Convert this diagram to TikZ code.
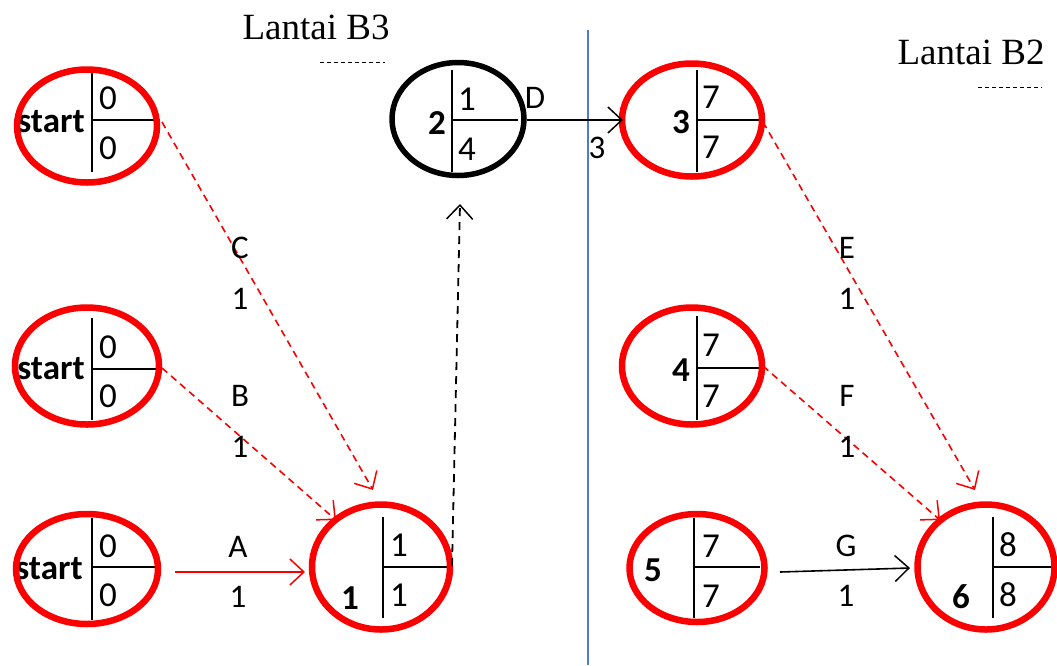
\documentclass[tikz,border=0pt]{standalone}
\usepackage{fontspec}
\setmainfont{Carlito}
\newfontfamily\tnr{Liberation Serif}
\usetikzlibrary{shapes.geometric,arrows.meta}
\definecolor{evred}{RGB}{250,0,0}
\definecolor{sepblue}{RGB}{80,125,195}
\begin{document}
\begin{tikzpicture}[x=1pt,y=-1pt,
  ev/.style args={#1/#2}{ellipse,draw=evred,line width=6.5pt,inner sep=0pt,minimum width=#1,minimum height=#2},
  evk/.style args={#1/#2}{ellipse,draw=black,line width=5.5pt,inner sep=0pt,minimum width=#1,minimum height=#2},
  num/.style={font=\fontsize{35}{35}\selectfont,inner sep=0pt,anchor=center},
  bnum/.style={font=\fontsize{35}{35}\selectfont\bfseries,inner sep=0pt,anchor=center},
  lbl/.style={font=\fontsize{33}{33}\selectfont,inner sep=0pt,anchor=center},
  ttl/.style={font=\tnr\fontsize{37}{37}\selectfont,inner sep=0pt,anchor=center},
  sep/.style={line width=2.8pt,black},
  tip/.style={-{Straight Barb[length=14pt,width=26pt,line width=1.5pt]}},
  redd/.style={tip,evred,line width=1.6pt,dash pattern=on 7pt off 5pt},
  reds/.style={tip,evred,line width=1.6pt},
  blks/.style={tip,black,line width=1.6pt},
  blkd/.style={tip,black,line width=1.8pt,dash pattern=on 8pt off 6pt}]
\useasboundingbox (0,0) rectangle (1057,665);

% separator
\draw[sepblue,line width=1.5pt] (588,30) -- (588,665);

% titles
\node[ttl] (tB3) at (316,27) {Lantai B3};
\node[ttl] (tB2) at (971,52) {Lantai B2};
\draw[black,line width=0.8pt,dash pattern=on 4pt off 3pt] (320,62) -- (385,62);
\draw[black,line width=0.8pt,dash pattern=on 4pt off 3pt] (978,87) -- (1042,87);

% ---- texts inside events (drawn under the ellipses)
\node[bnum] (t1) at (51,122) {start};
\node[num] at (108,98) {0}; \node[num] at (108,148) {0};
\node[bnum] (t2) at (51,369) {start};
\node[num] at (108,347) {0}; \node[num] at (108,396) {0};
\node[bnum] (t3) at (49,569) {start};
\node[num] at (108,546) {0}; \node[num] at (108,595) {0};
\node[bnum] at (350,598) {1};
\node[num] at (399,545) {1}; \node[num] at (399,595) {1};
\node[bnum] at (437,123) {2};
\node[num] at (467,99) {1}; \node[num] at (467,149) {4};
\node[bnum] at (681,122) {3};
\node[num] at (711,97) {7}; \node[num] at (711,147) {7};
\node[bnum] at (681,370) {4};
\node[num] at (711,345) {7}; \node[num] at (711,396) {7};
\node[bnum] at (653,570) {5};
\node[num] at (711,546) {7}; \node[num] at (711,596) {7};
\node[bnum] at (961,597) {6};
\node[num] at (1008,545) {8}; \node[num] at (1008,595) {8};

% ---- dividers
\draw[sep] (92,71) -- (92,172) (92,120) -- (156,120);
\draw[sep] (92,318) -- (92,420) (92,369) -- (156,369);
\draw[sep] (92,518) -- (92,620) (92,567) -- (156,567);
\draw[sep] (383,517) -- (383,618) (383,567) -- (448,567);
\draw[sep] (452,70) -- (452,172) (452,120) -- (518,120);
\draw[sep] (697,70) -- (697,172) (697,120) -- (760,120);
\draw[sep] (697,316) -- (697,420) (697,368) -- (760,368);
\draw[sep] (694,518) -- (694,618) (694,567) -- (760,567);
\draw[sep] (993,517) -- (993,618) (993,567) -- (1057,567);

% ---- event ellipses
\node[ev=140pt/113pt] (s1) at (87,126) {};
\node[ev=144pt/117pt] (s2) at (87,366) {};
\node[ev=142pt/110pt] (s3) at (87,569) {};
\node[ev=138pt/125pt] (n1) at (381,567) {};
\node[evk=132pt/113pt] (n2) at (458,119) {};
\node[ev=140pt/113pt] (n3) at (692,120) {};
\node[ev=140pt/117pt] (n4) at (692,366) {};
\node[ev=135pt/108pt] (n5) at (697,568) {};
\node[ev=137pt/125pt] (n6) at (986,567) {};

% ---- connector end points
\coordinate (cS) at (162,122);
\coordinate (cE) at (373,490);
\coordinate (bS) at (162,368);
\coordinate (bE) at (336,520);
\coordinate (aS) at (175,572);
\coordinate (aE) at (305,572);
\coordinate (dmS) at (452,566);
\coordinate (dmE) at (460,204);
\coordinate (dS) at (527,120);
\coordinate (dE) at (623,120);
\coordinate (eS) at (763,122);
\coordinate (eE) at (975,490);
\coordinate (fS) at (763,366);
\coordinate (fE) at (940,520);
\coordinate (gS) at (780,572);
\coordinate (gE) at (910,568);

\draw[redd] (cS) -- (cE);
\draw[redd] (bS) -- (bE);
\draw[reds] (aS) -- (aE);
\draw[blkd] (dmS) -- (dmE);
\draw[blks] (dS) -- (dE);
\draw[redd] (eS) -- (eE);
\draw[redd] (fS) -- (fE);
\draw[blks] (gS) -- (gE);

% ---- activity labels
\node[lbl] at (240,248) {C}; \node[lbl] at (240,299) {1};
\node[lbl] at (240,396) {B}; \node[lbl] at (240,447) {1};
\node[lbl] at (238,547) {A}; \node[lbl] at (238,597) {1};
\node[lbl] at (535,98) {D}; \node[lbl] at (597,148) {3};
\node[lbl] at (847,248) {E}; \node[lbl] at (847,299) {1};
\node[lbl] at (847,396) {F}; \node[lbl] at (847,447) {1};
\node[lbl] at (846,546) {G}; \node[lbl] at (846,596) {1};
\end{tikzpicture}
\end{document}
